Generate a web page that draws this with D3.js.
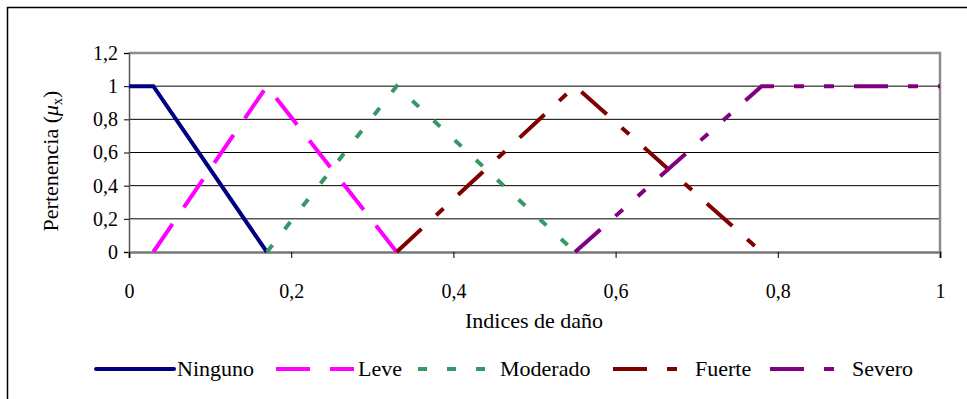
<!DOCTYPE html>
<html><head><meta charset="utf-8">
<script src="https://cdn.jsdelivr.net/npm/d3@7"></script>
<style>body{margin:0;background:#fff}svg{display:block}</style>
</head><body>
<script>
const seriesNames = ["Ninguno","Leve","Moderado","Fuerte","Severo"];
const ninguno = [[0,1],[0.03,1],[0.17,0]];
const leve = [[0.03,0],[0.17,1],[0.33,0]];
const moderado = [[0.17,0],[0.33,1],[0.55,0]];
const fuerte = [[0.33,0],[0.55,1],[0.78,0]];
const severo = [[0.55,0],[0.78,1],[1,1]];
const xTicks = [0,0.2,0.4,0.6,0.8,1];
const yTicks = [0,0.2,0.4,0.6,0.8,1,1.2];

const FONT='"Liberation Serif","Times New Roman",Tinos,Times,"DejaVu Serif","Noto Serif",serif';
const W=967,H=399;
const svg=d3.select("body").append("svg").attr("width",W).attr("height",H)
  .attr("font-family",FONT).style("font-family",FONT);
// outer frame
svg.append("path").attr("d","M7.5,"+(H+5)+"V7.5H"+(W+5)).attr("fill","none").attr("stroke","#000").attr("stroke-width",1.5);

const x=d3.scaleLinear().domain([0,1]).range([129,940]);
const y=d3.scaleLinear().domain([0,1.2]).range([252,53]);
const fmt=d=>String(d).replace(".",",");

// gridlines
svg.append("g").selectAll("line").data(yTicks.filter(d=>d>0&&d<1.2)).join("line")
  .attr("x1",x(0)).attr("x2",x(1)).attr("y1",d=>y(d)).attr("y2",d=>y(d))
  .attr("stroke","#000").attr("stroke-width",1);
// plot border top & right
svg.append("path").attr("d",`M${x(0)},${y(1.2)}H${x(1)}V${y(0)}`).attr("fill","none").attr("stroke","#8c8c8c").attr("stroke-width",2.5);

// y axis
const ya=svg.append("g").attr("transform",`translate(${x(0)},0)`)
  .call(d3.axisLeft(y).tickValues(yTicks).tickFormat(fmt).tickSize(5).tickPadding(6));
ya.attr("font-family",FONT);
ya.select(".domain").attr("stroke","#555").attr("stroke-width",1.5);
ya.selectAll(".tick line").attr("stroke","#000");
ya.selectAll("text").style("font-size","20px").style("font-family",FONT).attr("fill","#000");

// x axis
const xa=svg.append("g").attr("transform",`translate(0,${y(0)})`)
  .call(d3.axisBottom(x).tickValues(xTicks).tickFormat(fmt).tickSize(6).tickPadding(26));
xa.attr("font-family",FONT);
xa.select(".domain").attr("stroke","#777").attr("stroke-width",2.5);
xa.selectAll(".tick line").attr("stroke","#000");
xa.selectAll("text").style("font-size","20px").style("font-family",FONT).attr("fill","#000");

// axis titles
svg.append("text").attr("x",534).attr("y",328).attr("text-anchor","middle").style("font-family",FONT).style("font-size","22px").text("Indices de daño");
const yl=svg.append("text").attr("transform","translate(58,161) rotate(-90)").attr("text-anchor","middle").style("font-family",FONT).style("font-size","22px");
yl.append("tspan").text("Pertenencia (");
yl.append("tspan").style("font-style","italic").text("μ");
yl.append("tspan").attr("dy",4).style("font-size","14px").text("x");
yl.append("tspan").attr("dy",-4).text(")");

const styles=[
 {data:ninguno,color:"#000080",dash:null,w:4},
 {data:leve,color:"#FF00FF",dash:"34,20",w:4},
 {data:moderado,color:"#339966",dash:"9,20",w:4},
 {data:fuerte,color:"#800000",dash:"34,20,10,20",w:4},
 {data:severo,color:"#800080",dash:"34,20,10,20,10,20",w:4}
];
const line=d3.line().x(d=>x(d[0])).y(d=>y(d[1]));
svg.append("g").selectAll("path").data(styles).join("path")
  .attr("d",d=>line(d.data)).attr("fill","none").attr("stroke",d=>d.color)
  .attr("stroke-width",d=>d.w).attr("stroke-dasharray",d=>d.dash)
  .attr("stroke-linejoin","miter");

// legend
const legX=[96,276,418,613,770];
const lg=svg.append("g");
styles.forEach((s,i)=>{
  lg.append("line").attr("x1",legX[i]).attr("x2",legX[i]+78).attr("y1",369).attr("y2",369)
    .attr("stroke",s.color).attr("stroke-width",4).attr("stroke-dasharray",s.dash)
    .attr("stroke-linecap",i===0?"round":"butt");
  lg.append("text").attr("x",legX[i]+(i===0?81:82)).attr("y",376).style("font-family",FONT).style("font-size","22px").text(seriesNames[i]);
});
</script>
</body></html>
